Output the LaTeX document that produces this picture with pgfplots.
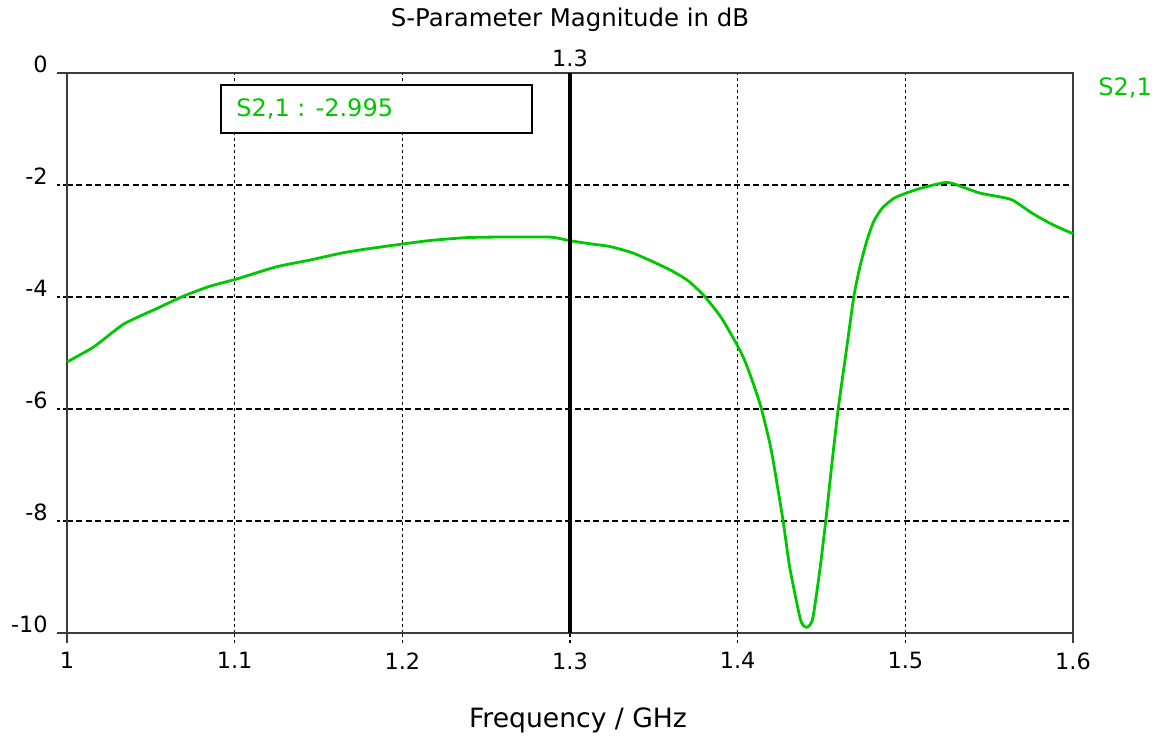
\documentclass[border=0pt]{standalone}
\usepackage{fontspec}
\setmainfont{DejaVu Sans}
\usepackage{pgfplots}
\pgfplotsset{compat=1.18}
\definecolor{sgreen}{RGB}{0,200,0}
\definecolor{axgray}{RGB}{60,60,60}
\begin{document}
\fontsize{11}{13}\selectfont
\begin{tikzpicture}
\useasboundingbox[fill=white] (-33.5pt,-52.5pt) rectangle (545pt,316.5pt);
\begin{axis}[
  at={(0,0)}, anchor=south west,
  scale only axis, width=503pt, height=280pt,
  xmin=1, xmax=1.6, ymin=-10, ymax=0,
  xtick={1,1.1,1.2,1.3,1.4,1.5,1.6},
  xticklabels={1,1.1,1.2,1.3,1.4,1.5,1.6},
  ytick={-10,-8,-6,-4,-2,0},
  yticklabels={-10,-8,-6,-4,-2,0},
  tick align=outside, major tick length=5pt,
  xtick pos=bottom, ytick pos=left,
  tick style={black, line width=0.6pt, dash pattern=on 1.6pt off 1.4pt},
  xmajorgrids, ymajorgrids,
  x grid style={black, line width=0.6pt, dash pattern=on 1.6pt off 1.4pt},
  y grid style={black, line width=0.6pt, dash pattern=on 3pt off 1.7pt},
  axis line style={axgray, line width=0.7pt},
  ticklabel style={font=\fontsize{11.2}{13}\selectfont},
  xticklabel style={anchor=north, inner sep=0pt, yshift=-4.5pt},
  yticklabel style={anchor=south east, inner sep=0pt, xshift=-4.5pt},
  title={S-Parameter Magnitude in dB},
  title style={at={(0.5,1)}, anchor=center, yshift=20.5pt, font=\fontsize{12.2}{14}\selectfont},
  xlabel={Frequency / GHz},
  xlabel style={at={(0.5,0)}, anchor=center, yshift=-43.5pt, xshift=4pt, font=\fontsize{13.3}{15}\selectfont},
  clip=false,
]
\addplot[sgreen, line width=1.4pt, line join=round, smooth, tension=0.35] coordinates {
(1.000,-5.16) (1.016,-4.89) (1.034,-4.48) (1.054,-4.20) (1.069,-3.99)
(1.085,-3.81) (1.101,-3.68) (1.125,-3.46) (1.145,-3.34) (1.163,-3.22)
(1.177,-3.15) (1.201,-3.05) (1.217,-2.99) (1.238,-2.94) (1.256,-2.93)
(1.288,-2.93) (1.300,-2.995) (1.312,-3.05) (1.324,-3.10) (1.338,-3.22)
(1.358,-3.49) (1.370,-3.70) (1.380,-3.98) (1.390,-4.36) (1.399,-4.82)
(1.404,-5.12) (1.409,-5.52) (1.414,-5.98) (1.420,-6.73) (1.427,-7.98) (1.431,-8.82)
(1.437,-9.71) (1.439,-9.86) (1.441,-9.90) (1.443,-9.86) (1.445,-9.71)
(1.449,-8.88) (1.4526,-7.98) (1.456,-7.03) (1.460,-5.99) (1.464,-5.13)
(1.4693,-3.99) (1.473,-3.45) (1.477,-3.0) (1.481,-2.66) (1.486,-2.42) (1.493,-2.24)
(1.500,-2.15) (1.509,-2.06) (1.5225,-1.96) (1.528,-1.97) (1.544,-2.14)
(1.556,-2.21) (1.564,-2.27) (1.576,-2.51) (1.588,-2.71) (1.600,-2.87)
};
\draw[black, line width=1.6pt] (axis cs:1.3,-10) -- (axis cs:1.3,0);
\node[anchor=south, inner sep=0pt, yshift=3pt, font=\fontsize{11.2}{13}\selectfont] at (axis cs:1.3,0) {1.3};
\draw[black, line width=1.3pt, fill=white] (axis cs:1.0918,-0.214) rectangle (axis cs:1.2773,-1.071);
\node[anchor=west, inner sep=0pt, text=sgreen, font=\fontsize{12}{14}\selectfont] at (axis cs:1.1008,-0.64) {S2,1 : -2.995};
\end{axis}
\draw[axgray, line width=0.7pt] (current axis.south west) -- ++(0,-5pt);
\draw[axgray, line width=0.7pt] (current axis.south west) -- ++(-5pt,0);
\draw[axgray, line width=0.7pt] (current axis.south east) -- ++(0,-5pt);
\draw[axgray, line width=0.7pt] (current axis.north west) -- ++(-5pt,0);
\node[anchor=west, inner sep=0pt, text=sgreen, font=\fontsize{12}{14}\selectfont] at ([xshift=12.5pt,yshift=-7.5pt]current axis.north east) {S2,1};
\end{tikzpicture}
\end{document}
